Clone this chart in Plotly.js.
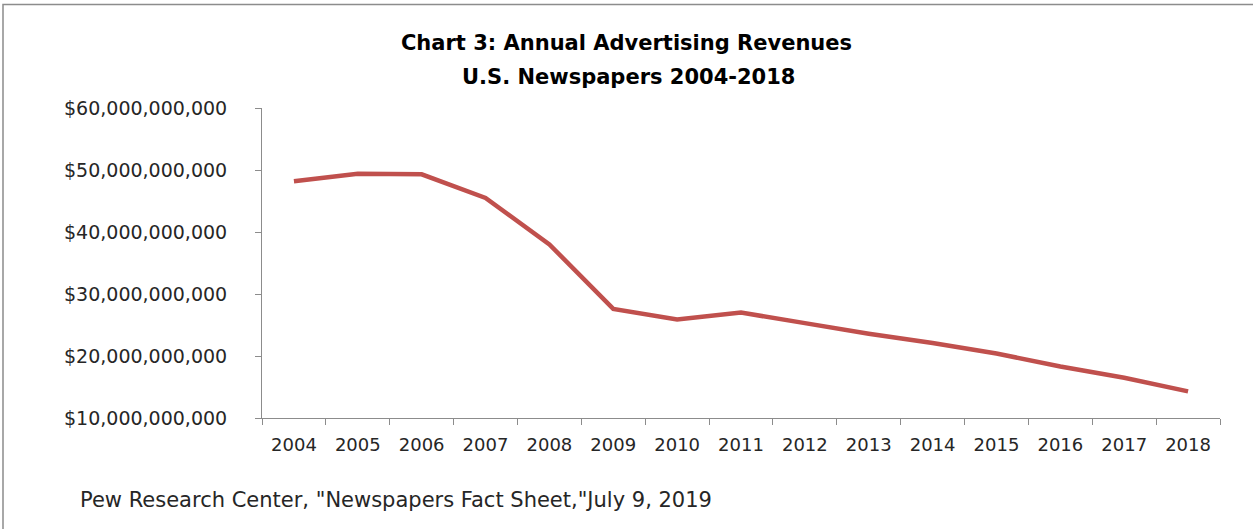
<!DOCTYPE html>
<html>
<head>
<meta charset="utf-8">
<script src="https://cdn.plot.ly/plotly-3.0.1.min.js"></script>
<style>html,body{margin:0;padding:0;background:#fff;}#chart{width:1253px;height:529px;}</style>
</head>
<body>
<div id="chart"></div>
<script>
const years = ["2004","2005","2006","2007","2008","2009","2010","2011","2012","2013","2014","2015","2016","2017","2018"];
const revenues = [48.2e9, 49.4e9, 49.3e9, 45.5e9, 38.0e9, 27.6e9, 25.9e9, 27.0e9, 25.3e9, 23.6e9, 22.1e9, 20.4e9, 18.3e9, 16.5e9, 14.3e9];
const titleLine1 = "Chart 3: Annual Advertising Revenues";
const titleLine2 = "U.S. Newspapers 2004-2018";
const sourceNote = "Pew Research Center, \"Newspapers Fact Sheet,\"July 9, 2019";

const W = 1253, H = 529;
const L = 262, R = 1220, T = 108, B = 418;
const px = X => (X - L) / (R - L);
const py = Y => (B - Y) / (B - T);
const FONT = "DejaVu Sans, sans-serif";

const trace = {
  type: "scatter", mode: "lines",
  x: years, y: revenues,
  line: {color: "#C0504D", width: 4.5},
  hoverinfo: "x+y"
};

const layout = {
  width: W, height: H,
  margin: {l: L, r: W - R, t: T, b: H - B, pad: 0},
  paper_bgcolor: "#ffffff", plot_bgcolor: "#ffffff",
  showlegend: false,
  font: {family: FONT, color: "#333333"},
  title: {
    text: titleLine1,
    font: {family: FONT, size: 21, color: "#000000", weight: "bold"},
    x: 0.5, xref: "container", xanchor: "center",
    y: 1 - 43 / H, yref: "container", yanchor: "middle"
  },
  xaxis: {
    type: "category",
    range: [-0.5, 14.5],
    showline: true, linecolor: "#8c8c8c", linewidth: 1,
    ticks: "outside", tickson: "boundaries", ticklen: 6, tickcolor: "#8c8c8c",
    tickfont: {family: FONT, size: 18, color: "#262626"},
    ticklabelstandoff: 10,
    showgrid: false, zeroline: false, fixedrange: true
  },
  yaxis: {
    range: [10e9, 60e9],
    tick0: 10e9, dtick: 10e9,
    tickformat: "$,.0f",
    showline: true, linecolor: "#8c8c8c", linewidth: 1,
    ticks: "outside", ticklen: 6, tickcolor: "#8c8c8c",
    tickfont: {family: FONT, size: 19, color: "#262626"},
    ticklabelstandoff: 24,
    showgrid: false, zeroline: false, fixedrange: true
  },
  annotations: [
    {text: titleLine2, xref: "paper", yref: "paper", x: px(628), y: py(77),
     xanchor: "center", yanchor: "middle", showarrow: false,
     font: {family: FONT, size: 21, color: "#000000", weight: "bold"}},
    {text: sourceNote, xref: "paper", yref: "paper", x: px(78), y: py(500),
     xanchor: "left", yanchor: "middle", showarrow: false,
     font: {family: FONT, size: 21, color: "#262626"}}
  ],
  shapes: [
    {type: "rect", xref: "paper", yref: "paper", x0: px(3), x1: px(1262), y0: py(4.5), y1: py(540),
     line: {color: "#8c8c8c", width: 1.5}, fillcolor: "rgba(0,0,0,0)", layer: "below"}
  ]
};

Plotly.newPlot("chart", [trace], layout, {displayModeBar: false, staticPlot: true});
</script>
</body>
</html>
